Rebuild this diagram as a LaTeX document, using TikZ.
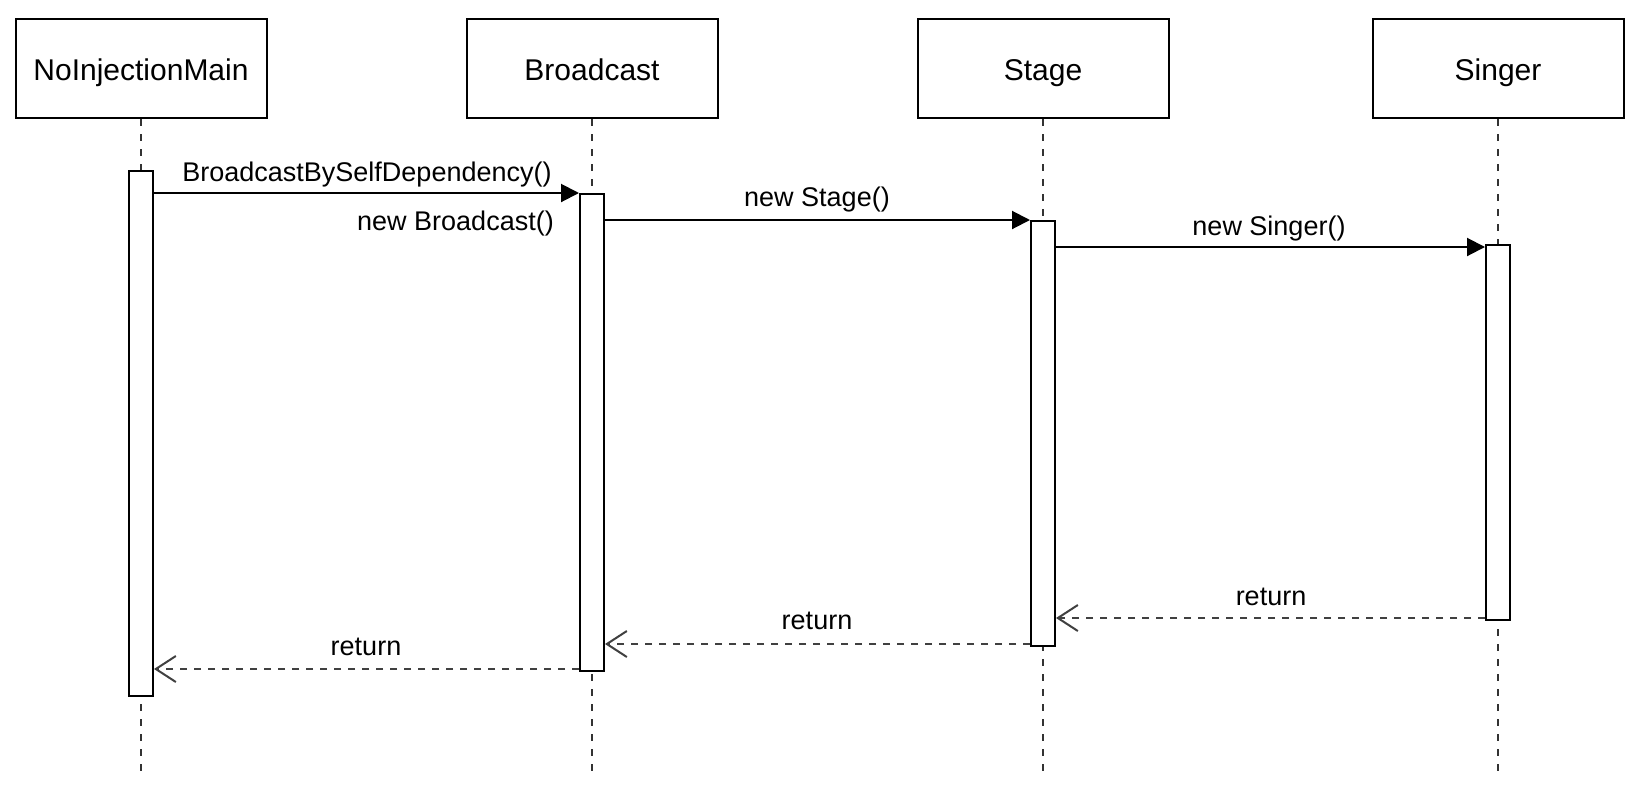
\documentclass[tikz,border=0pt]{standalone}
\usepackage{fontspec}
\setmainfont{Liberation Sans}
\usetikzlibrary{arrows.meta}
\begin{document}
\begin{tikzpicture}[x=1pt,y=-1pt,
  actor/.style={draw=black,line width=2pt,fill=white,minimum width=251pt,minimum height=99pt,inner sep=0pt,text height=27pt,text depth=3pt,font=\fontsize{30pt}{36pt}\selectfont},
  lifeline/.style={draw=black!80,line width=2pt,dash pattern=on 7pt off 8pt},
  bar/.style={draw=black,line width=2pt,fill=white,minimum width=24pt,inner sep=0pt,anchor=north},
  msg/.style={draw=black,line width=2pt,-{Triangle[length=18pt,width=18pt]}},
  ret/.style={draw=black!75,line width=2pt,dash pattern=on 7pt off 7pt,-{Straight Barb[length=20pt,width=26pt,line width=2pt]}},
  lbl/.style={font=\fontsize{27pt}{32pt}\selectfont,inner sep=0pt}
]
\useasboundingbox (0,0) rectangle (1640,785);
% actors
\node[actor] (a) at (141,68.5) {NoInjectionMain};
\node[actor] (b) at (592,68.5) {Broadcast};
\node[actor] (c) at (1043,68.5) {Stage};
\node[actor] (d) at (1498,68.5) {Singer};
% lifeline ends
\coordinate (ae) at (141,772);
\coordinate (be) at (592,772);
\coordinate (ce) at (1043,772);
\coordinate (de) at (1498,772);
\draw[lifeline] (a.south) -- (ae);
\draw[lifeline] (b.south) -- (be);
\draw[lifeline] (c.south) -- (ce);
\draw[lifeline] (d.south) -- (de);
% activation bars
\node[bar,minimum height=525pt] (ba) at (141,170) {};
\node[bar,minimum height=477pt] (bb) at (592,193) {};
\node[bar,minimum height=425pt] (bc) at (1043,220) {};
\node[bar,minimum height=375pt] (bd) at (1498,244) {};
% anchor points on bars
\coordinate (m3) at ([yshift=-3pt]bd.north west);
\coordinate (r1) at ([yshift=3pt]bd.south west);
\coordinate (r2) at ([yshift=3pt]bc.south west);
\coordinate (r3) at ([yshift=3pt]bb.south west);
% calls
\draw[msg] (ba.east |- bb.north) -- (bb.north west);
\draw[msg] (bb.east |- bc.north) -- (bc.north west);
\draw[msg] (bc.east |- m3) -- (m3);
% returns
\draw[ret] (r1) -- (bc.east |- r1);
\draw[ret] (r2) -- (bb.east |- r2);
\draw[ret] (r3) -- (ba.east |- r3);
% labels
\node[lbl] (l1) at (367,175) {BroadcastBySelfDependency()};
\node[lbl,anchor=east] (l2) at (554,224) {new Broadcast()};
\node[lbl] (l3) at (817,200) {new Stage()};
\node[lbl] (l4) at (1269,229) {new Singer()};
\node[lbl] (l5) at (1271,597) {return};
\node[lbl] (l6) at (817,621) {return};
\node[lbl] (l7) at (366,647) {return};
\end{tikzpicture}
\end{document}
